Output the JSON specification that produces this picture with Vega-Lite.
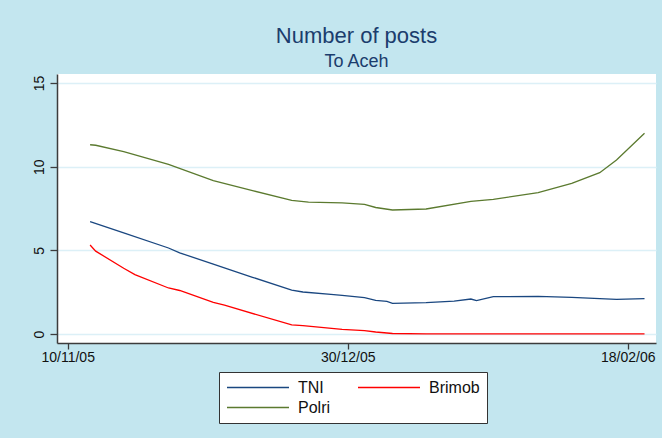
{
  "$schema": "https://vega.github.io/schema/vega-lite/v6.json",
  "width": 599,
  "height": 269,
  "autosize": {"type": "none"},
  "padding": {"left": 57, "top": 74, "right": 6, "bottom": 95},
  "background": "#c3e6ef",
  "config": {
    "font": "Liberation Sans",
    "view": {"fill": "white", "stroke": null},
    "axis": {"labelFont": "Liberation Sans", "labelColor": "#111111", "domainColor": "#3c3c3c", "tickColor": "#3c3c3c", "domainWidth": 1.5, "tickWidth": 1.3}
  },
  "title": {
    "text": "Number of posts",
    "subtitle": "To Aceh",
    "anchor": "middle",
    "fontSize": 22,
    "fontWeight": "normal",
    "color": "#1b3d6d",
    "subtitleFontSize": 18,
    "subtitleColor": "#1b3d6d",
    "subtitleFont": "Liberation Sans",
    "subtitlePadding": 5,
    "offset": 2
  },
  "data": {
    "values": [
      {"date": "2005-11-14", "series": "Polri", "value": 11.31},
      {"date": "2005-11-15", "series": "Polri", "value": 11.28},
      {"date": "2005-11-20", "series": "Polri", "value": 10.9},
      {"date": "2005-11-28", "series": "Polri", "value": 10.14},
      {"date": "2005-12-06", "series": "Polri", "value": 9.16},
      {"date": "2005-12-13", "series": "Polri", "value": 8.57},
      {"date": "2005-12-20", "series": "Polri", "value": 7.98},
      {"date": "2005-12-23", "series": "Polri", "value": 7.88},
      {"date": "2005-12-29", "series": "Polri", "value": 7.84},
      {"date": "2006-01-02", "series": "Polri", "value": 7.75},
      {"date": "2006-01-04", "series": "Polri", "value": 7.56},
      {"date": "2006-01-07", "series": "Polri", "value": 7.41},
      {"date": "2006-01-13", "series": "Polri", "value": 7.47},
      {"date": "2006-01-21", "series": "Polri", "value": 7.93},
      {"date": "2006-01-25", "series": "Polri", "value": 8.05},
      {"date": "2006-02-02", "series": "Polri", "value": 8.45},
      {"date": "2006-02-08", "series": "Polri", "value": 9.0},
      {"date": "2006-02-13", "series": "Polri", "value": 9.64},
      {"date": "2006-02-16", "series": "Polri", "value": 10.4},
      {"date": "2006-02-21", "series": "Polri", "value": 12.0},
      {"date": "2005-11-14", "series": "TNI", "value": 6.71},
      {"date": "2005-11-20", "series": "TNI", "value": 6.05},
      {"date": "2005-11-28", "series": "TNI", "value": 5.14},
      {"date": "2005-11-30", "series": "TNI", "value": 4.85},
      {"date": "2005-12-06", "series": "TNI", "value": 4.17},
      {"date": "2005-12-13", "series": "TNI", "value": 3.39},
      {"date": "2005-12-20", "series": "TNI", "value": 2.62},
      {"date": "2005-12-22", "series": "TNI", "value": 2.51},
      {"date": "2005-12-27", "series": "TNI", "value": 2.37},
      {"date": "2005-12-29", "series": "TNI", "value": 2.31},
      {"date": "2006-01-02", "series": "TNI", "value": 2.17},
      {"date": "2006-01-04", "series": "TNI", "value": 2.01},
      {"date": "2006-01-06", "series": "TNI", "value": 1.95},
      {"date": "2006-01-07", "series": "TNI", "value": 1.83},
      {"date": "2006-01-13", "series": "TNI", "value": 1.87},
      {"date": "2006-01-18", "series": "TNI", "value": 1.97},
      {"date": "2006-01-21", "series": "TNI", "value": 2.09},
      {"date": "2006-01-22", "series": "TNI", "value": 1.99},
      {"date": "2006-01-25", "series": "TNI", "value": 2.23},
      {"date": "2006-02-02", "series": "TNI", "value": 2.25},
      {"date": "2006-02-08", "series": "TNI", "value": 2.19},
      {"date": "2006-02-16", "series": "TNI", "value": 2.07},
      {"date": "2006-02-21", "series": "TNI", "value": 2.11},
      {"date": "2005-11-14", "series": "Brimob", "value": 5.32},
      {"date": "2005-11-15", "series": "Brimob", "value": 4.95},
      {"date": "2005-11-20", "series": "Brimob", "value": 3.93},
      {"date": "2005-11-22", "series": "Brimob", "value": 3.55},
      {"date": "2005-11-28", "series": "Brimob", "value": 2.75},
      {"date": "2005-11-30", "series": "Brimob", "value": 2.6},
      {"date": "2005-12-06", "series": "Brimob", "value": 1.89},
      {"date": "2005-12-08", "series": "Brimob", "value": 1.72},
      {"date": "2005-12-20", "series": "Brimob", "value": 0.54},
      {"date": "2005-12-22", "series": "Brimob", "value": 0.5},
      {"date": "2005-12-29", "series": "Brimob", "value": 0.28},
      {"date": "2006-01-02", "series": "Brimob", "value": 0.2},
      {"date": "2006-01-04", "series": "Brimob", "value": 0.12},
      {"date": "2006-01-07", "series": "Brimob", "value": 0.03},
      {"date": "2006-01-13", "series": "Brimob", "value": 0.01},
      {"date": "2006-02-21", "series": "Brimob", "value": 0.01}
    ]
  },
  "mark": {"type": "line", "strokeWidth": 1.3},
  "encoding": {
    "x": {
      "field": "date",
      "type": "temporal",
      "scale": {
        "type": "utc",
        "domain": [
          {"year": 2005, "month": 11, "date": 8, "hours": 2, "minutes": 10, "utc": true},
          {"year": 2006, "month": 2, "date": 23, "hours": 1, "minutes": 12, "utc": true}
        ]
      },
      "axis": {
        "title": null,
        "values": [
          {"year": 2005, "month": 11, "date": 10, "utc": true},
          {"year": 2005, "month": 12, "date": 30, "utc": true},
          {"year": 2006, "month": 2, "date": 18, "utc": true}
        ],
        "format": "%d/%m/%y",
        "grid": false,
        "tickSize": 6,
        "labelPadding": 12.7,
        "labelBaseline": "alphabetic",
        "labelFontSize": 14,
        "labelAngle": 0,
        "labelFlush": false,
        "labelOverlap": false
      }
    },
    "y": {
      "field": "value",
      "type": "quantitative",
      "scale": {"domain": [-0.538, 15.538], "nice": false, "zero": false},
      "axis": {
        "title": null,
        "values": [0, 5, 10, 15],
        "grid": true,
        "gridColor": "#dcf0f7",
        "gridWidth": 1.5,
        "tickSize": 7,
        "labelPadding": 6.7,
        "labelAngle": 270,
        "labelAlign": "center",
        "labelBaseline": "alphabetic",
        "labelFontSize": 14
      }
    },
    "color": {
      "field": "series",
      "type": "nominal",
      "scale": {"domain": ["TNI", "Brimob", "Polri"], "range": ["#1a4780", "#ff0000", "#5b7a2f"]},
      "legend": {
        "title": null,
        "orient": "none",
        "legendX": 162,
        "legendY": 298,
        "direction": "horizontal",
        "columns": 2,
        "symbolType": "stroke",
        "symbolSize": 3844,
        "symbolStrokeWidth": 1.3,
        "clipHeight": 17,
        "rowPadding": 3,
        "columnPadding": 26,
        "labelOffset": 8,
        "labelFontSize": 16,
        "labelColor": "#111111",
        "labelFont": "Liberation Sans",
        "padding": 7,
        "fillColor": "white",
        "strokeColor": "#333333",
        "cornerRadius": 0
      }
    }
  }
}
